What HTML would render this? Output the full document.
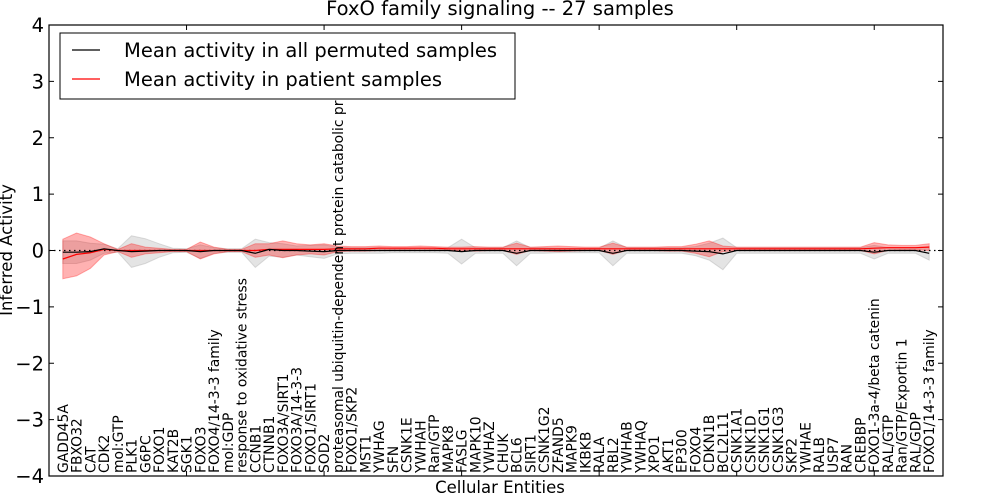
<!DOCTYPE html>
<html><head><meta charset="utf-8"><style>
html,body{margin:0;padding:0;background:#fff;}
svg{display:block;font-family:"DejaVu Sans","Liberation Sans",sans-serif;}
</style></head><body>
<svg id="chart" width="1000" height="500" viewBox="0 0 1000 500">
<text x="500" y="15" text-anchor="middle" font-size="19.5">FoxO family signaling -- 27 samples</text>
<text transform="translate(12,250) rotate(-90)" text-anchor="middle" font-size="16.5">Inferred Activity</text>
<text x="500" y="493" text-anchor="middle" font-size="16.5">Cellular Entities</text>
<g id="plot"></g>
</svg>
<script>
const categories = ["GADD45A","FBXO32","CAT","CDK2","mol:GTP","PLK1","G6PC","FOXO1","KAT2B","SGK1","FOXO3","FOXO4/14-3-3 family","mol:GDP","response to oxidative stress","CCNB1","CTNNB1","FOXO3A/SIRT1","FOXO3A/14-3-3","FOXO1/SIRT1","SOD2","proteasomal ubiquitin-dependent protein catabolic pr","FOXO1/SKP2","MST1","YWHAG","SFN","CSNK1E","YWHAH","Ran/GTP","MAPK8","FASLG","MAPK10","YWHAZ","CHUK","BCL6","SIRT1","CSNK1G2","ZFAND5","MAPK9","IKBKB","RALA","RBL2","YWHAB","YWHAQ","XPO1","AKT1","EP300","FOXO4","CDKN1B","BCL2L11","CSNK1A1","CSNK1D","CSNK1G1","CSNK1G3","SKP2","YWHAE","RALB","USP7","RAN","CREBBP","FOXO1-3a-4/beta catenin","RAL/GTP","Ran/GTP/Exportin 1","RAL/GDP","FOXO1/14-3-3 family"];
const patientMean = [-0.15,-0.07,-0.04,0.02,0.0,0.0,0.0,0.0,0.0,0.0,0.0,0.0,0.0,0.0,0.0,0.02,0.02,0.02,0.02,0.02,0.03,0.03,0.03,0.04,0.04,0.04,0.04,0.04,0.03,0.03,0.03,0.03,0.03,0.03,0.03,0.03,0.03,0.03,0.03,0.03,0.03,0.03,0.03,0.03,0.03,0.03,0.03,0.03,0.03,0.03,0.03,0.03,0.03,0.03,0.03,0.03,0.03,0.03,0.03,0.04,0.05,0.05,0.05,0.06];
const patientSpread = [0.35,0.38,0.28,0.1,0.02,0.12,0.06,0.04,0.02,0.02,0.15,0.06,0.02,0.02,0.12,0.1,0.15,0.1,0.08,0.1,0.05,0.04,0.04,0.04,0.03,0.03,0.04,0.03,0.03,0.03,0.04,0.03,0.03,0.1,0.03,0.04,0.05,0.04,0.03,0.03,0.1,0.03,0.03,0.03,0.04,0.04,0.08,0.14,0.05,0.03,0.03,0.03,0.03,0.03,0.03,0.03,0.03,0.03,0.03,0.1,0.05,0.04,0.04,0.06];
const permutedMean = [-0.03,-0.03,-0.02,0.03,0.0,-0.02,-0.01,0.0,0.0,0.0,-0.02,0.0,0.0,0.0,-0.05,0.02,0.0,0.0,-0.01,-0.02,0.0,0.0,0.0,0.0,0.0,0.0,0.0,0.0,0.0,-0.02,0.0,0.0,0.0,-0.05,0.0,0.0,0.0,0.0,0.0,0.0,-0.05,0.0,0.0,0.0,0.0,0.0,-0.01,-0.02,-0.06,0.0,0.0,0.0,0.0,0.0,0.0,0.0,0.0,0.0,0.0,-0.03,0.0,0.0,0.0,-0.05];
const permutedSpread = [0.2,0.2,0.15,0.08,0.03,0.28,0.22,0.12,0.04,0.03,0.12,0.05,0.03,0.03,0.25,0.12,0.12,0.08,0.1,0.12,0.06,0.05,0.05,0.05,0.04,0.04,0.04,0.04,0.05,0.22,0.05,0.05,0.05,0.22,0.05,0.05,0.04,0.04,0.04,0.04,0.22,0.05,0.05,0.05,0.05,0.05,0.08,0.15,0.28,0.05,0.05,0.05,0.05,0.05,0.05,0.05,0.05,0.05,0.05,0.12,0.05,0.05,0.05,0.12];
const yTicks = [-4,-3,-2,-1,0,1,2,3,4];
const yTickLabels = ["\u22124","\u22123","\u22122","\u22121","0","1","2","3","4"];
const xTicks = [0,10,20,30,40,50,60];

const L=49,R=943,T=25,B=476;
const xMin=0,xMax=65,yMin=-4,yMax=4;
const xs=v=>L+(v-xMin)/(xMax-xMin)*(R-L);
const ys=v=>B-(v-yMin)/(yMax-yMin)*(B-T);
const xi=i=>xs(i+1);
const NS="http://www.w3.org/2000/svg";
const plot=document.getElementById('plot');
function mk(tag,attrs,parent){const e=document.createElementNS(NS,tag);for(const k in attrs)e.setAttribute(k,attrs[k]);(parent||plot).appendChild(e);return e;}
function band(mean,spread){
  let up=mean.map((m,i)=>xi(i).toFixed(1)+','+ys(m+spread[i]).toFixed(1));
  let dn=mean.map((m,i)=>xi(i).toFixed(1)+','+ys(m-spread[i]).toFixed(1)).reverse();
  return up.concat(dn).join(' ');
}
function line(mean){return mean.map((m,i)=>xi(i).toFixed(1)+','+ys(m).toFixed(1)).join(' ');}

const g1=mk('polygon',{points:band(permutedMean,permutedSpread),fill:'#bbbbbb','fill-opacity':'0.4',stroke:'#aaaaaa','stroke-opacity':'0.4'});


const r1=mk('polygon',{points:band(patientMean,patientSpread),fill:'#ff0000','fill-opacity':'0.3',stroke:'#ff0000','stroke-opacity':'0.3'});


const z=mk('line',{x1:L,x2:R,y1:ys(0),y2:ys(0),stroke:'#000','stroke-width':1.2,'stroke-dasharray':'1.5,3.5'});


const rl=mk('polyline',{points:line(patientMean),fill:'none',stroke:'#ff0000','stroke-width':1.2});


const bl=mk('polyline',{points:line(permutedMean),fill:'none',stroke:'#000','stroke-width':1.2});



const fr=mk('rect',{x:L,y:T,width:R-L,height:B-T,fill:'none',stroke:'#000','stroke-width':1.2});


yTicks.forEach((v,k)=>{
  const y=ys(v);
  mk('line',{x1:L,x2:L+5,y1:y,y2:y,stroke:'#000'});
  mk('line',{x1:R,x2:R-5,y1:y,y2:y,stroke:'#000'});
  const t=mk('text',{x:L-5,y:y+7,'text-anchor':'end','font-size':19.5});
  t.textContent=yTickLabels[k];
  
  
});
xTicks.forEach(v=>{
  const x=xs(v);
  mk('line',{x1:x,x2:x,y1:B,y2:B-5,stroke:'#000'});
  mk('line',{x1:x,x2:x,y1:T,y2:T+5,stroke:'#000'});
});
categories.forEach((c,i)=>{
  const x=xi(i)+5;
  const t=mk('text',{transform:'translate('+x.toFixed(1)+',473) rotate(-90)','font-size':13.9});
  t.textContent=c;
  
  
});
const lg=mk('g',{});


mk('rect',{x:60,y:33,width:455,height:66,fill:'#fff',stroke:'#000','stroke-width':1},lg);
mk('line',{x1:72,x2:100,y1:50,y2:50,stroke:'#000','stroke-width':1.2},lg);
const t1=mk('text',{x:124,y:57,'font-size':19.5},lg);t1.textContent='Mean activity in all permuted samples';


mk('line',{x1:72,x2:100,y1:79,y2:79,stroke:'#ff0000','stroke-width':1.2},lg);
const t2=mk('text',{x:124,y:86,'font-size':19.5},lg);t2.textContent='Mean activity in patient samples';


</script>
</body></html>
